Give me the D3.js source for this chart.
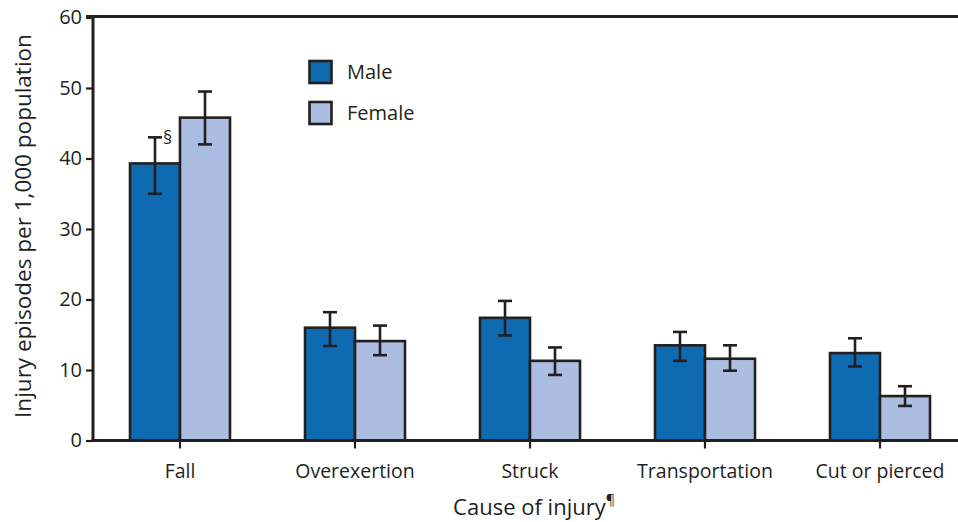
<!DOCTYPE html>
<html>
<head>
<meta charset="utf-8">
<script src="https://cdn.jsdelivr.net/npm/d3@7"></script>
<style>
  html, body { margin: 0; padding: 0; background: #fff; }
  svg { display: block; }
  text { font-family: "Open Sans", "Noto Sans", sans-serif; fill: #231f20; }
</style>
</head>
<body>
<svg id="chart" width="958" height="522"></svg>
<script>
const categories = ["Fall", "Overexertion", "Struck", "Transportation", "Cut or pierced"];
const series = ["Male", "Female"];
const maleValues = [39.3, 16.0, 17.4, 13.5, 12.4];
const maleLow = [35.0, 13.4, 14.9, 11.3, 10.5];
const maleHigh = [43.0, 18.2, 19.8, 15.4, 14.5];
const femaleValues = [45.8, 14.1, 11.3, 11.6, 6.3];
const femaleLow = [42.0, 12.1, 9.3, 9.9, 4.9];
const femaleHigh = [49.5, 16.3, 13.2, 13.5, 7.7];
const yTicks = [0, 10, 20, 30, 40, 50, 60];
const colors = { Male: "#0e6ab1", Female: "#abbde0" };
const ink = "#231f20";

const svg = d3.select("#chart");
const mLeft = 93, mRight = 967.5, mTop = 17.5, mBottom = 440.5;

const x0 = d3.scaleBand().domain(categories).range([mLeft - 0.5, mRight]);
const x1 = d3.scaleBand().domain(series).range([37.5, 137.5]);
const y = d3.scaleLinear().domain([0, 60]).range([mBottom, mTop]);

const rows = [];
categories.forEach((c, i) => {
  rows.push({ cat: c, s: "Male", v: maleValues[i], lo: maleLow[i], hi: maleHigh[i] });
  rows.push({ cat: c, s: "Female", v: femaleValues[i], lo: femaleLow[i], hi: femaleHigh[i] });
});

// bars
svg.append("g").selectAll("rect").data(rows).join("rect")
  .attr("x", d => x0(d.cat) + x1(d.s))
  .attr("y", d => y(d.v))
  .attr("width", x1.bandwidth())
  .attr("height", d => y(0) - y(d.v))
  .attr("fill", d => colors[d.s])
  .attr("stroke", ink)
  .attr("stroke-width", 2.6);

// error bars
const eb = svg.append("g").attr("stroke", ink).attr("stroke-width", 2.6);
rows.forEach(d => {
  const cx = x0(d.cat) + x1(d.s) + x1.bandwidth() / 2;
  eb.append("line").attr("x1", cx).attr("x2", cx).attr("y1", y(d.hi)).attr("y2", y(d.lo));
  eb.append("line").attr("x1", cx - 7).attr("x2", cx + 7).attr("y1", y(d.hi)).attr("y2", y(d.hi));
  eb.append("line").attr("x1", cx - 7).attr("x2", cx + 7).attr("y1", y(d.lo)).attr("y2", y(d.lo));
});

// section mark on Fall male
svg.append("text")
  .attr("x", x0("Fall") + x1("Male") + x1.bandwidth() / 2 + 8)
  .attr("y", y(maleHigh[0]) + 7)
  .attr("font-size", 18)
  .text("§");

// y axis
const yAxis = d3.axisLeft(y).tickValues(yTicks).tickSize(7).tickPadding(4).tickFormat(d3.format("d"));
const gy = svg.append("g").attr("transform", `translate(${mLeft},0)`).call(yAxis);
gy.select(".domain").remove();
gy.selectAll(".tick line").attr("stroke", ink).attr("stroke-width", 2.2);
gy.selectAll(".tick text").attr("font-size", 20).attr("fill", ink);
svg.append("line").attr("x1", mLeft).attr("x2", mLeft).attr("y1", mTop - 1.5).attr("y2", mBottom + 1.5)
  .attr("stroke", ink).attr("stroke-width", 3);

// top border
svg.append("line").attr("x1", mLeft - 7).attr("x2", 958).attr("y1", mTop - 1).attr("y2", mTop - 1)
  .attr("stroke", ink).attr("stroke-width", 3);

// x axis
const xAxis = d3.axisBottom(x0).tickSize(8).tickPadding(16);
const gx = svg.append("g").attr("transform", `translate(0,${mBottom})`).call(xAxis);
gx.select(".domain").remove();
gx.selectAll(".tick line").attr("stroke", ink).attr("stroke-width", 2.2);
gx.selectAll(".tick text").attr("font-size", 19.5).attr("fill", ink);
svg.append("line").attr("x1", mLeft - 1.5).attr("x2", 958).attr("y1", mBottom).attr("y2", mBottom)
  .attr("stroke", ink).attr("stroke-width", 3);

// axis titles
svg.append("text")
  .attr("transform", `translate(31,226) rotate(-90)`)
  .attr("text-anchor", "middle")
  .attr("font-size", 22.5)
  .text("Injury episodes per 1,000 population");

const xt = svg.append("text")
  .attr("x", 534).attr("y", 515)
  .attr("text-anchor", "middle")
  .attr("font-size", 22);
xt.append("tspan").text("Cause of injury");
xt.append("tspan").attr("font-size", 14).attr("dy", -10).text("¶");

// legend
const legend = svg.append("g");
series.forEach((s, i) => {
  const ly = 61 + i * 41;
  legend.append("rect").attr("x", 309.5).attr("y", ly).attr("width", 22).attr("height", 22)
    .attr("fill", colors[s]).attr("stroke", ink).attr("stroke-width", 2.6);
  legend.append("text").attr("x", 347).attr("y", ly + 18).attr("font-size", 20).text(s);
});
</script>
</body>
</html>
